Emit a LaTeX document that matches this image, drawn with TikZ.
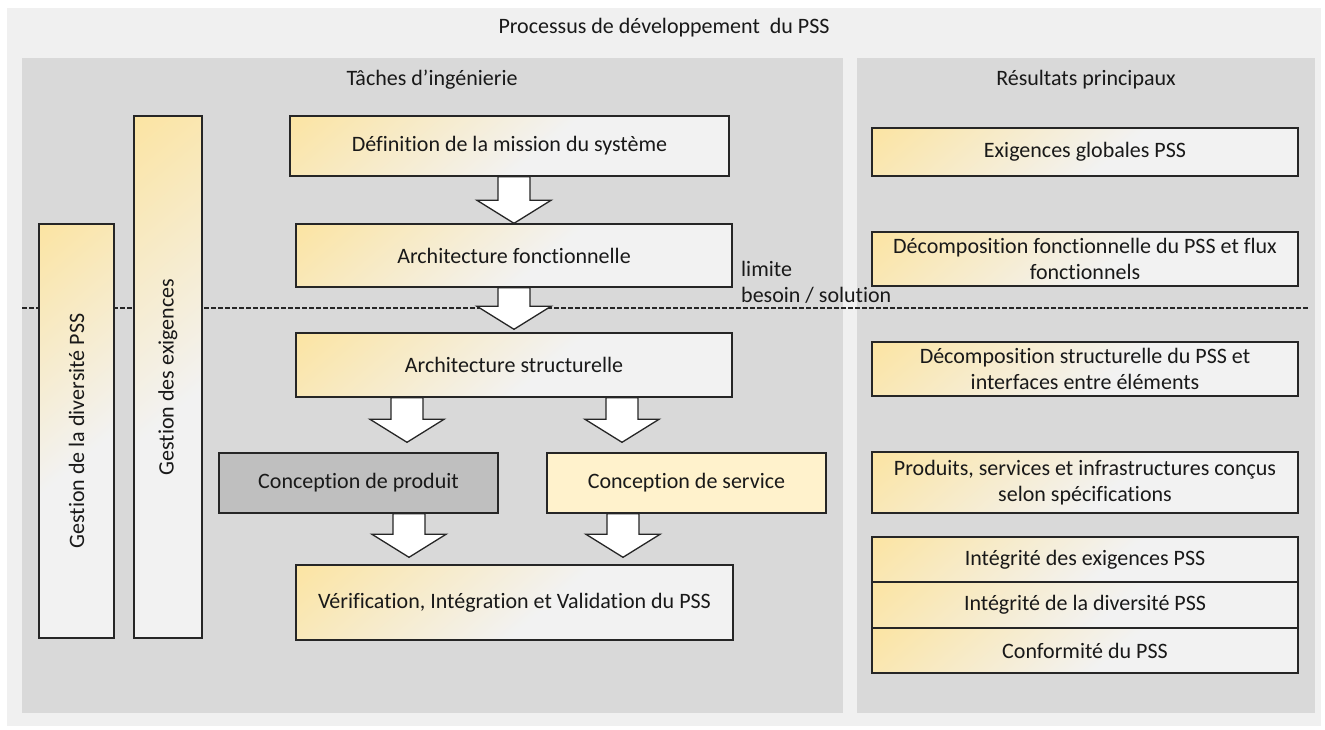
\documentclass[tikz,border=0pt]{standalone}
\usepackage{fontspec}
\setmainfont{Carlito}[Ligatures=NoCommon]
\usetikzlibrary{calc,positioning}
\definecolor{pssyellow}{HTML}{FFDF85}
\definecolor{psslight}{HTML}{F2F2F2}
\definecolor{outerbg}{HTML}{F0F0F0}
\definecolor{panelbg}{HTML}{D9D9D9}
\definecolor{prodgray}{HTML}{BFBFBF}
\definecolor{servyellow}{HTML}{FFF2CC}
\pgfdeclareverticalshading{pssgrad}{100bp}{color(0bp)=(psslight); color(45bp)=(psslight); color(70bp)=(pssyellow!45!psslight); color(100bp)=(pssyellow)}
\tikzset{
panel/.style={fill=panelbg,draw=none},
taskbox/.style={draw=black!85,line width=1.4pt,shading=pssgrad,shading angle=40,align=center,inner sep=2pt},
flatbox/.style={draw=black!85,line width=1.4pt,align=center},
resultbox/.style={taskbox,minimum width=426pt},
blockarrow/.style={draw=black!85,fill=white,line width=1.3pt,line join=miter}
}
\newcommand{\blockarrow}[2]{%
  \draw[blockarrow] let \p1=(#1), \p2=(#2) in
    (\x2-16pt,\y1) -- (\x2+16pt,\y1) -- (\x2+16pt,\y2+23pt) -- (\x2+37pt,\y2+23pt)
    -- (\x2,\y2) -- (\x2-37pt,\y2+23pt) -- (\x2-16pt,\y2+23pt) -- cycle;}
\begin{document}
\begin{tikzpicture}[x=1pt,y=-1pt,every node/.style={font=\fontsize{22}{26}\selectfont,text=black!90}]
\useasboundingbox (0,0) rectangle (1325,729);
% backgrounds
\node[fill=outerbg,minimum width=1314pt,minimum height=718pt,inner sep=0pt] (outer) at (664,367) {};
\node[panel,minimum width=821pt,minimum height=655pt,inner sep=0pt] (tasks) at (432.5,385.5) {};
\node[panel,minimum width=458pt,minimum height=655pt,inner sep=0pt] (results) at (1086,385.5) {};
\node (title) at (664,28) {Processus de développement~ du PSS};
\node (taskstitle) at (432,80) {Tâches d’ingénierie};
\node (resultstitle) at (1086,80) {Résultats principaux};
% limite besoin / solution
\coordinate (limL) at (22,308);
\coordinate (limR) at (1308,308);
\draw[line width=1.2pt,black!85,dash pattern=on 4.5pt off 2.5pt] (limL) -- (limR);
\node[anchor=west,align=left,inner sep=0pt] (limit) at (741,282) {limite\\besoin / solution};
% engineering tasks
\node[taskbox,minimum width=75pt,minimum height=414pt,label={[rotate=90]center:Gestion de la diversité PSS}] (diversite) at (76.5,431) {};
\node[taskbox,minimum width=68pt,minimum height=522pt,label={[rotate=90]center:Gestion des exigences}] (exigences) at (168,377) {};
\node[taskbox,minimum width=439pt,minimum height=60pt] (mission) at (509.5,146) {Définition de la mission du système};
\node[taskbox,minimum width=436pt,minimum height=63pt] (fonct) at (514,255.5) {Architecture fonctionnelle};
\node[taskbox,minimum width=436pt,minimum height=64pt] (struct) at (514,365) {Architecture structurelle};
\node[flatbox,fill=prodgray,minimum width=279pt,minimum height=60pt] (prod) at (358.5,483) {Conception de produit};
\node[flatbox,fill=servyellow,minimum width=279pt,minimum height=60pt] (serv) at (686.5,483) {Conception de service};
\node[taskbox,minimum width=437pt,minimum height=75pt] (verif) at (514.5,602.5) {Vérification, Intégration et Validation du PSS};
\blockarrow{mission.south}{fonct.north}
\blockarrow{fonct.south}{[yshift=3pt]struct.north}
\blockarrow{struct.south}{[xshift=48.5pt,yshift=10pt]prod.north}
\blockarrow{struct.south}{[xshift=-64.5pt,yshift=10pt]serv.north}
\blockarrow{prod.south}{[xshift=-105.5pt,yshift=7pt]verif.north}
\blockarrow{serv.south}{[xshift=108.5pt,yshift=7pt]verif.north}
% main results
\node[resultbox,minimum height=48pt] (globales) at (1085,152) {Exigences globales PSS};
\node[resultbox,minimum height=54pt] (decfonct) at (1085,259) {Décomposition fonctionnelle du PSS et flux\\fonctionnels};
\node[resultbox,minimum height=54pt] (decstruct) at (1085,369) {Décomposition structurelle du PSS et\\interfaces entre éléments};
\node[resultbox,minimum height=61pt] (concus) at (1085,482.5) {Produits, services et infrastructures conçus\\selon spécifications};
\node[resultbox,minimum height=45pt,outer sep=0pt] (integex) at (1085,559.5) {Intégrité des exigences PSS};
\node[resultbox,minimum height=46pt,outer sep=0pt,below=0pt of integex] (integdiv) {Intégrité de la diversité PSS};
\node[resultbox,minimum height=45pt,outer sep=0pt,below=0pt of integdiv] (conform) {Conformité du PSS};
\end{tikzpicture}
\end{document}
